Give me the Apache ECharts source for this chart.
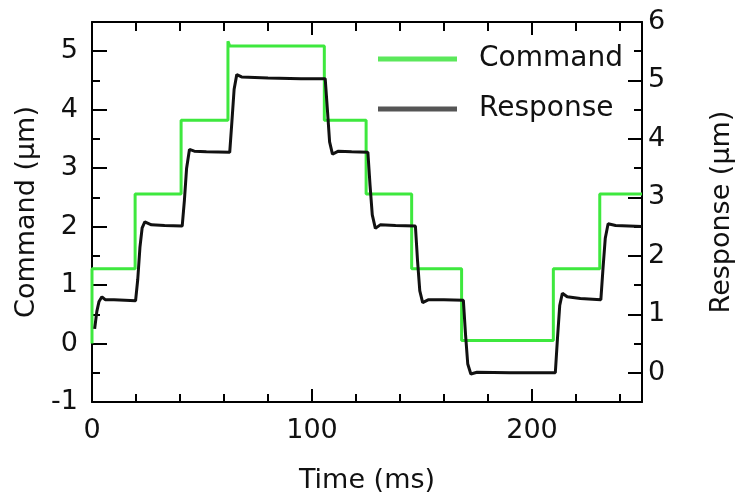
<!DOCTYPE html>
<html>
<head>
<meta charset="utf-8">
<script src="https://cdn.jsdelivr.net/npm/echarts@6/dist/echarts.min.js"></script>
<style>html,body{margin:0;padding:0;background:#fff}#c{width:739px;height:502px}</style>
</head>
<body>
<div id="c"></div>
<script>
// Command (left axis, µm) step signal
const cmdT = [0, 0, 19.6, 19.6, 40.5, 40.5, 61.8, 61.8, 62.6, 105.6, 105.6, 124.6, 124.6, 145.3, 145.3, 168.0, 168.0, 209.7, 209.7, 230.8, 230.8, 250];
const cmdV = [0, 1.28, 1.28, 2.56, 2.56, 3.82, 3.82, 5.17, 5.09, 5.09, 3.82, 3.82, 2.56, 2.56, 1.28, 1.28, 0.05, 0.05, 1.28, 1.28, 2.56, 2.56];
// Response (right axis, µm)
const respT = [1.2, 2.2, 3.2, 4.5, 6, 10, 15, 19.8,
  20.8, 21.8, 22.8, 24, 27, 33, 41.0,
  42.0, 43.0, 44.3, 46.5, 52, 62.6,
  63.6, 64.6, 65.8, 68, 80, 95, 106.0,
  107.0, 108.0, 109.3, 112, 118, 125.4,
  126.4, 127.4, 128.8, 131, 138, 147.0,
  148.0, 149.0, 150.3, 153, 160, 168.8,
  169.8, 170.8, 172.2, 175, 190, 210.6,
  211.6, 212.6, 213.8, 216, 222, 231.3,
  232.3, 233.3, 234.6, 238, 244, 250];
const respV = [0.75, 1.05, 1.22, 1.3, 1.25, 1.25, 1.24, 1.23,
  1.6, 2.15, 2.48, 2.58, 2.53, 2.52, 2.51,
  2.95, 3.5, 3.82, 3.79, 3.78, 3.77,
  4.3, 4.85, 5.1, 5.06, 5.04, 5.03, 5.03,
  4.5, 3.95, 3.74, 3.79, 3.78, 3.77,
  3.2, 2.7, 2.47, 2.53, 2.52, 2.51,
  1.9, 1.4, 1.2, 1.25, 1.25, 1.24,
  0.65, 0.15, -0.02, 0.01, 0.0, 0.0,
  0.6, 1.15, 1.36, 1.3, 1.27, 1.25,
  1.8, 2.3, 2.55, 2.52, 2.51, 2.5];

const cmdData = cmdT.map((t, i) => [t, cmdV[i]]);
const respData = respT.map((t, i) => [t, respV[i]]);

const FONT = 'DejaVu Sans';
const axisLine = {show: true, onZero: false, lineStyle: {color: '#000', width: 2}};
const noLine = {show: false, onZero: false};
const txt = {fontFamily: FONT, fontSize: 27, color: '#111'};
const tick = (len) => ({inside: true, length: len, lineStyle: {color: '#000', width: 2}});

const chart = echarts.init(document.getElementById('c'), null, {renderer: 'canvas'});
chart.setOption({
  animation: false,
  backgroundColor: '#fff',
  grid: {left: 92, right: 97, top: 22, bottom: 100, containLabel: false, outerBoundsMode: 'none'},
  legend: {
    orient: 'vertical',
    left: 373, top: 38,
    itemWidth: 79, itemHeight: 5, itemGap: 18,
    textStyle: {fontFamily: FONT, fontSize: 28, color: '#111', lineHeight: 32, padding: [0, 0, 0, 17]},
    data: [
      {name: 'Command', icon: 'rect', itemStyle: {color: '#5be85b'}},
      {name: 'Response', icon: 'rect', itemStyle: {color: '#555'}}
    ]
  },
  xAxis: [
    {type: 'value', position: 'bottom', min: 0, max: 250, interval: 100,
      axisLine: axisLine, splitLine: {show: false}, axisTick: tick(13),
      axisLabel: Object.assign({margin: 15, showMaxLabel: false}, txt),
      name: 'Time (ms)', nameLocation: 'middle', nameGap: 65, nameTextStyle: txt},
    {type: 'value', position: 'bottom', min: 0, max: 250, interval: 20,
      axisLine: noLine, splitLine: {show: false}, axisTick: tick(8),
      axisLabel: {show: false}},
    {type: 'value', position: 'top', min: 0, max: 250, interval: 100,
      axisLine: axisLine, splitLine: {show: false}, axisTick: tick(13),
      axisLabel: {show: false}},
    {type: 'value', position: 'top', min: 0, max: 250, interval: 20,
      axisLine: noLine, splitLine: {show: false}, axisTick: tick(9),
      axisLabel: {show: false}}
  ],
  yAxis: [
    {type: 'value', position: 'left', min: -1, max: 5.5, interval: 1,
      axisLine: axisLine, splitLine: {show: false}, axisTick: tick(15),
      axisLabel: Object.assign({margin: 14, showMaxLabel: false}, txt),
      name: 'Command (µm)', nameLocation: 'middle', nameGap: 41, nameTextStyle: txt},
    {type: 'value', position: 'left', min: -1, max: 5.5, interval: 0.5,
      axisLine: noLine, splitLine: {show: false}, axisTick: tick(8),
      axisLabel: {show: false}},
    {type: 'value', position: 'right', min: -0.5, max: 6, interval: 0.5,
      axisLine: axisLine, splitLine: {show: false}, axisTick: tick(8),
      axisLabel: Object.assign({margin: 6, showMinLabel: false,
        formatter: (v) => (Math.abs(v - Math.round(v)) < 1e-9 ? String(Math.round(v)) : '')}, txt),
      name: 'Response (µm)', nameLocation: 'middle', nameGap: 66, nameTextStyle: txt},
    // long (major) ticks of the right axis at whole micrometres: same scale, counted from the top
    {type: 'value', position: 'right', min: 0, max: 6.5, interval: 1, inverse: true,
      axisLine: noLine, splitLine: {show: false}, axisTick: tick(14),
      axisLabel: {show: false}}
  ],
  series: [
    {name: 'Command', type: 'line', xAxisIndex: 0, yAxisIndex: 0, data: cmdData,
      symbol: 'none', lineStyle: {color: '#3ee83e', width: 3}, itemStyle: {color: '#3ee83e'}, z: 2},
    {name: 'Response', type: 'line', xAxisIndex: 0, yAxisIndex: 2, data: respData,
      symbol: 'none', lineStyle: {color: '#111', width: 3}, itemStyle: {color: '#111'}, z: 3}
  ]
});
</script>
</body>
</html>
